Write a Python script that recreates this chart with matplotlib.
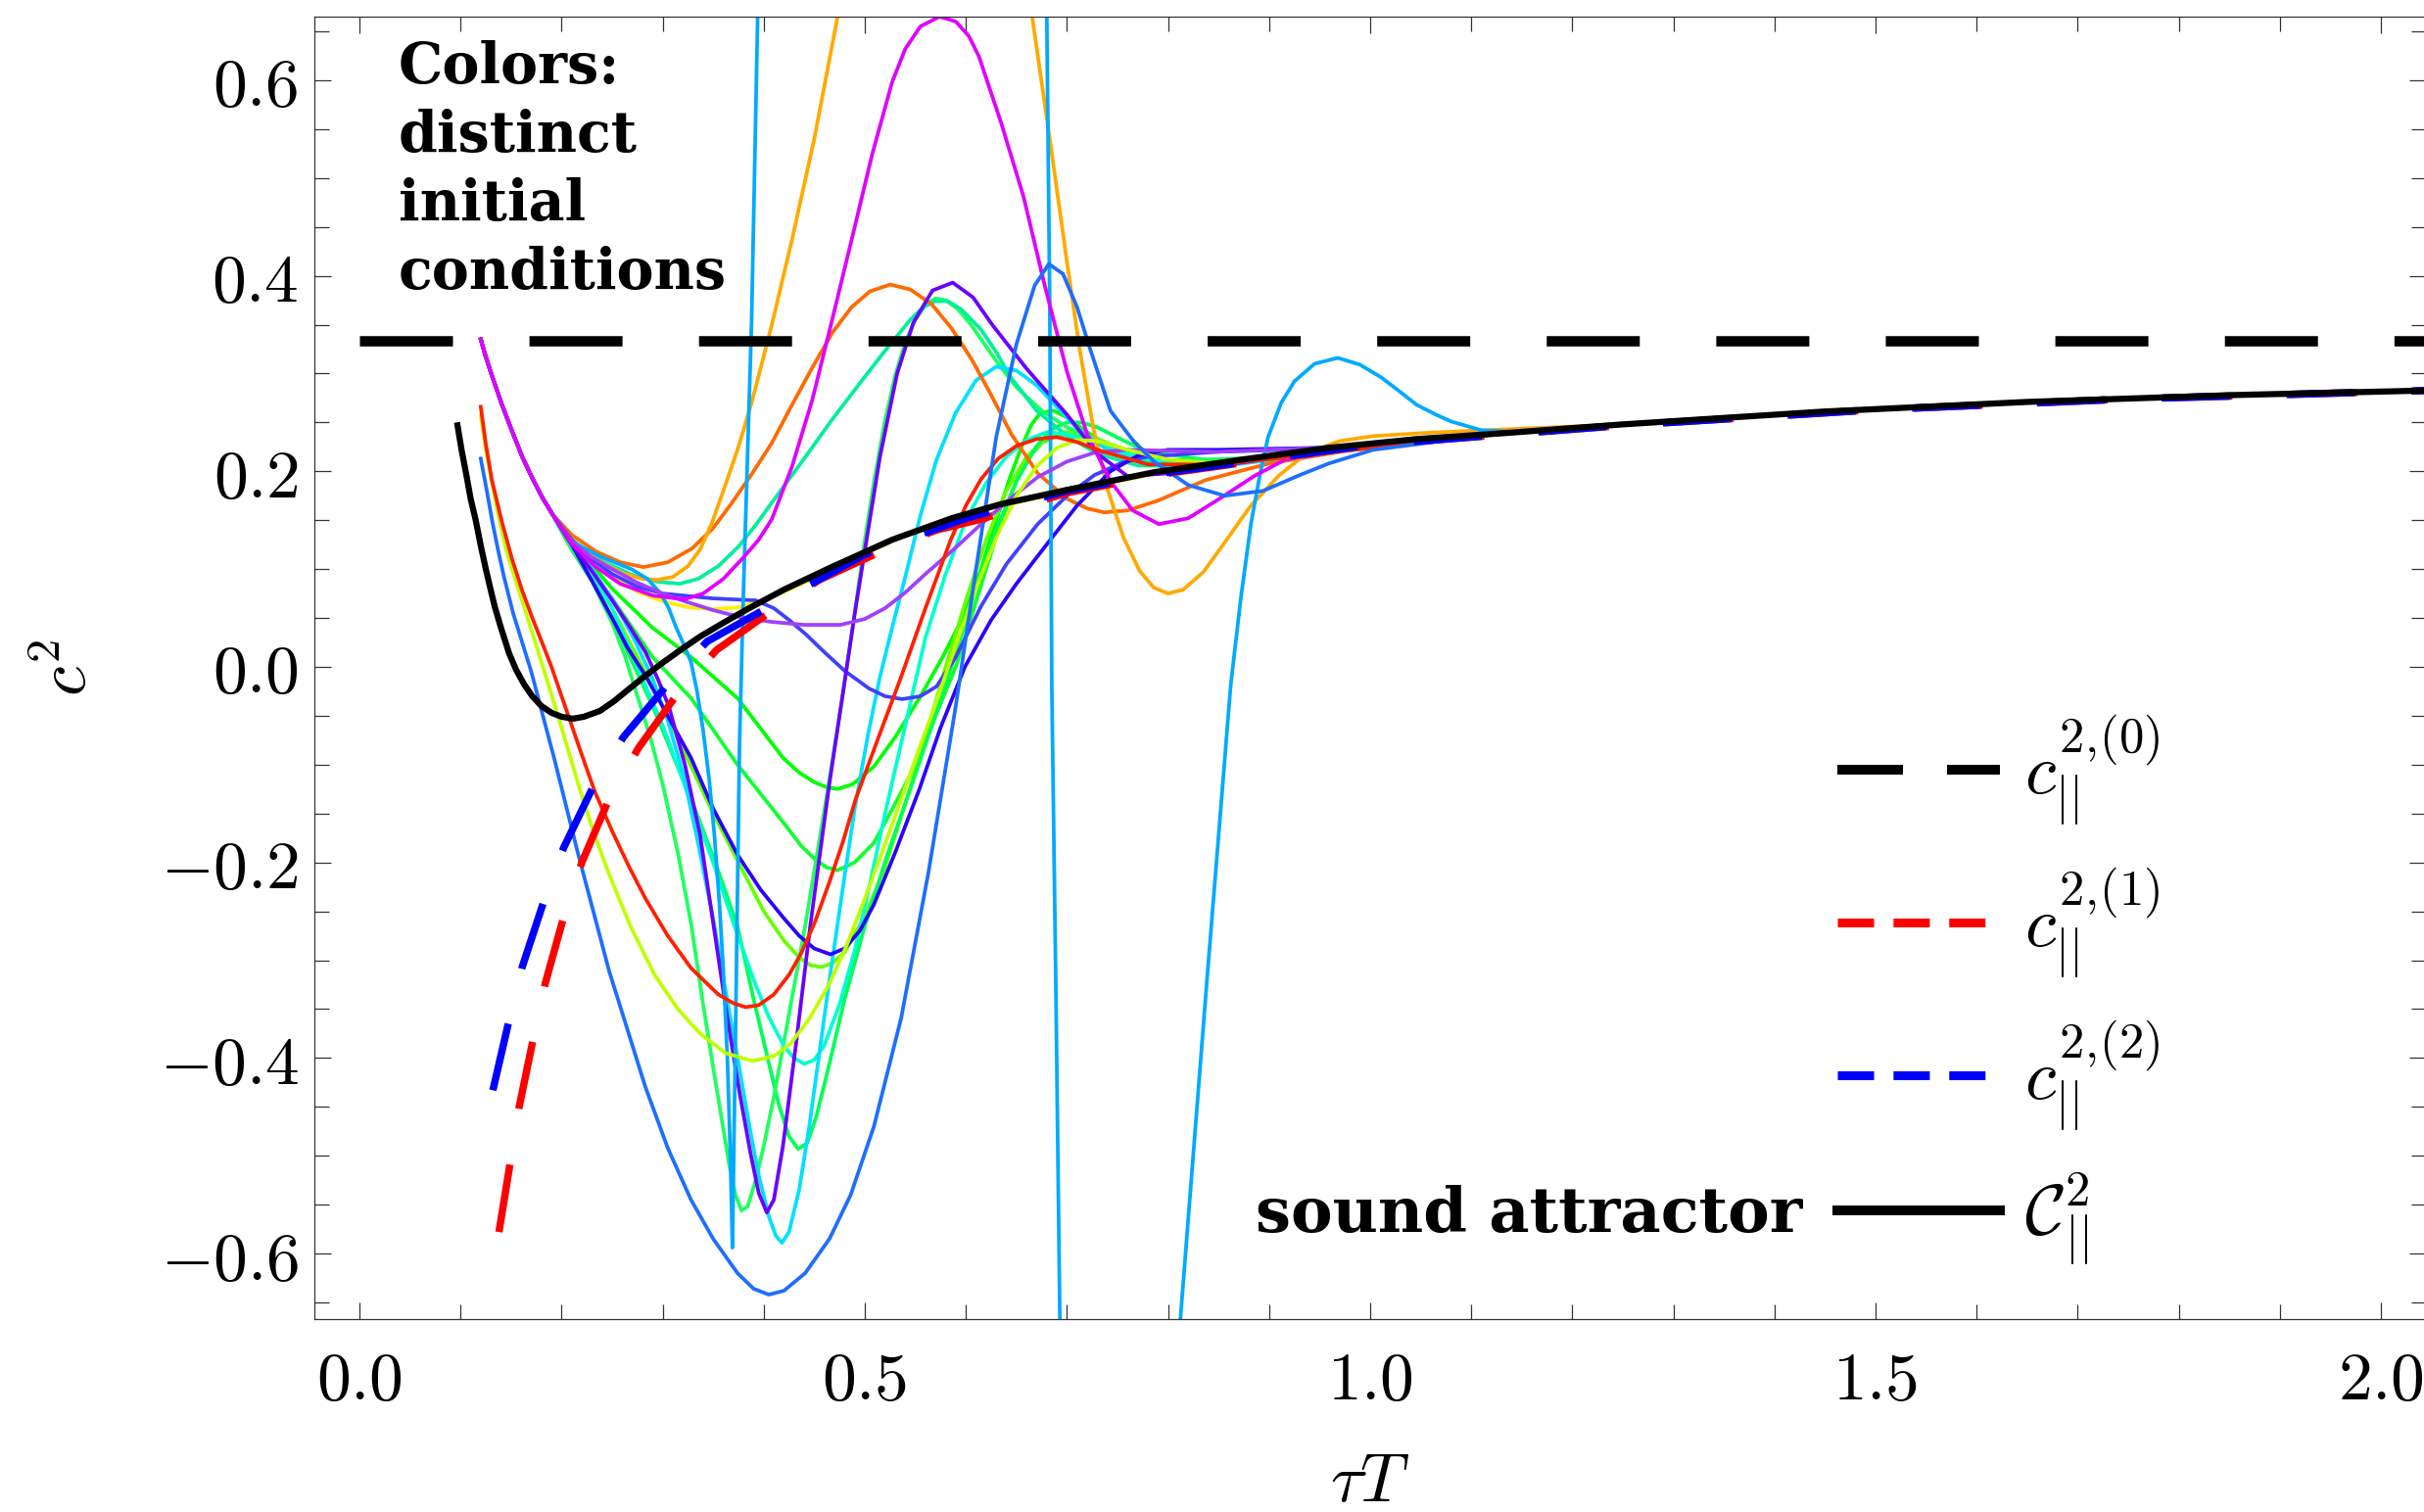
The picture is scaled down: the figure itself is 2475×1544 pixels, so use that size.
import numpy as np
import matplotlib
matplotlib.use('Agg')
import matplotlib.pyplot as plt
from matplotlib.lines import Line2D
from matplotlib.ticker import MultipleLocator, FuncFormatter

plt.rcParams['mathtext.fontset'] = 'cm'

# ---- values: (tau T, c^2) ----
c2_ideal = 1.0 / 3.0   # c_||^{2,(0)}

attractor_x = [0.097, 0.101, 0.106, 0.110, 0.115, 0.120, 0.125, 0.130, 0.134, 0.140, 0.148, 0.155,
               0.163, 0.171, 0.180, 0.190, 0.200, 0.211, 0.222, 0.238, 0.252, 0.265, 0.283, 0.301,
               0.320, 0.337, 0.360, 0.382, 0.420, 0.467, 0.527, 0.586, 0.633, 0.700, 0.786, 0.873,
               0.959, 1.046, 1.132, 1.250, 1.447, 1.651, 1.855, 2.060]
attractor_y = [0.247, 0.222, 0.195, 0.172, 0.150, 0.124, 0.100, 0.078, 0.061, 0.040, 0.014, -0.003,
               -0.018, -0.030, -0.040, -0.047, -0.051, -0.053, -0.051, -0.045, -0.035, -0.024, -0.009, 0.005,
               0.019, 0.031, 0.045, 0.058, 0.079, 0.102, 0.130, 0.152, 0.166, 0.181, 0.199, 0.212,
               0.224, 0.233, 0.239, 0.248, 0.261, 0.271, 0.278, 0.283]

hydro1_x = [0.138, 0.149, 0.158, 0.172, 0.184, 0.202, 0.220, 0.247, 0.276, 0.315, 0.353, 0.410,
            0.455, 0.518, 0.571, 0.615, 0.700, 0.800, 1.000, 1.250, 1.500, 1.750, 2.060]
hydro1_y = [-0.578, -0.508, -0.450, -0.380, -0.323, -0.256, -0.200, -0.135, -0.083, -0.027, 0.017, 0.059,
            0.089, 0.119, 0.140, 0.151, 0.178, 0.198, 0.227, 0.247, 0.263, 0.274, 0.283]

hydro2_x = [0.132, 0.147, 0.161, 0.182, 0.202, 0.231, 0.261, 0.308, 0.344, 0.410, 0.500, 0.600,
            0.700, 0.800, 1.000, 1.250, 1.500, 1.750, 2.060]
hydro2_y = [-0.433, -0.366, -0.307, -0.241, -0.185, -0.123, -0.072, -0.014, 0.026, 0.064, 0.115, 0.152,
            0.180, 0.199, 0.227, 0.247, 0.263, 0.274, 0.283]

# common start of the trajectories that begin at c^2 = 1/3
bundle_head = [(0.120, 0.335), (0.125, 0.317), (0.131, 0.298), (0.141, 0.268), (0.151, 0.241),
               (0.161, 0.215), (0.171, 0.193), (0.181, 0.173), (0.191, 0.156)]

magenta = [(0.210, 0.126), (0.234, 0.102), (0.258, 0.085), (0.290, 0.073), (0.321, 0.069), (0.340, 0.075),
           (0.360, 0.090), (0.380, 0.112), (0.395, 0.130), (0.408, 0.151), (0.428, 0.205), (0.448, 0.273),
           (0.467, 0.352), (0.487, 0.437), (0.507, 0.523), (0.527, 0.598), (0.540, 0.632), (0.555, 0.655),
           (0.574, 0.665), (0.590, 0.660), (0.603, 0.645), (0.613, 0.624), (0.635, 0.556), (0.657, 0.481),
           (0.678, 0.390), (0.700, 0.302), (0.720, 0.238), (0.743, 0.190), (0.765, 0.160), (0.791, 0.146),
           (0.820, 0.152), (0.851, 0.172), (0.885, 0.195), (0.916, 0.212), (1.000, 0.226)]
dark_orange = [(0.210, 0.135), (0.234, 0.118), (0.258, 0.107), (0.281, 0.102), (0.305, 0.107), (0.329, 0.121),
               (0.350, 0.142), (0.368, 0.167), (0.388, 0.197), (0.408, 0.229), (0.428, 0.268), (0.448, 0.306),
               (0.468, 0.342), (0.487, 0.368), (0.505, 0.384), (0.525, 0.391), (0.545, 0.386), (0.566, 0.371),
               (0.586, 0.346), (0.606, 0.314), (0.625, 0.278), (0.645, 0.238), (0.671, 0.198), (0.700, 0.172),
               (0.720, 0.162), (0.737, 0.158), (0.760, 0.160), (0.790, 0.170), (0.837, 0.191), (0.900, 0.208),
               (1.000, 0.225)]
amber = [(0.210, 0.130), (0.234, 0.110), (0.260, 0.096), (0.280, 0.090), (0.295, 0.089), (0.310, 0.092),
         (0.325, 0.103), (0.337, 0.120), (0.349, 0.148), (0.360, 0.180), (0.375, 0.225), (0.388, 0.270),
         (0.408, 0.350), (0.428, 0.437), (0.450, 0.540), (0.474, 0.670), (0.570, 1.600), (0.665, 0.669),
         (0.683, 0.540), (0.700, 0.414), (0.713, 0.322), (0.726, 0.245), (0.740, 0.182), (0.756, 0.132),
         (0.772, 0.098), (0.786, 0.081), (0.800, 0.075), (0.815, 0.079), (0.835, 0.097), (0.858, 0.130),
         (0.882, 0.165), (0.910, 0.196), (0.938, 0.219), (0.970, 0.231), (1.003, 0.236), (1.050, 0.239),
         (1.090, 0.241)]
mint = [(0.210, 0.130), (0.240, 0.108), (0.270, 0.094), (0.295, 0.087), (0.317, 0.085), (0.335, 0.090),
        (0.355, 0.103), (0.375, 0.123), (0.392, 0.145), (0.408, 0.168), (0.440, 0.213), (0.467, 0.252),
        (0.495, 0.290), (0.519, 0.322), (0.545, 0.355), (0.558, 0.368), (0.570, 0.374), (0.582, 0.374),
        (0.595, 0.366), (0.615, 0.345), (0.630, 0.322), (0.643, 0.298), (0.670, 0.262), (0.699, 0.237),
        (0.730, 0.218), (0.770, 0.206), (0.830, 0.205), (0.900, 0.213), (1.000, 0.224)]
light_blue = [(0.210, 0.128), (0.240, 0.112), (0.269, 0.100), (0.285, 0.090), (0.298, 0.075), (0.306, 0.060),
              (0.313, 0.041), (0.320, 0.025), (0.328, 0.005), (0.334, -0.025), (0.340, -0.065),
              (0.346, -0.115), (0.351, -0.170), (0.356, -0.240), (0.360, -0.310), (0.364, -0.400),
              (0.367, -0.500), (0.369, -0.594), (0.372, -0.380), (0.376, -0.080), (0.380, 0.080),
              (0.388, 0.355), (0.394, 0.667), (0.540, 2.000), (0.680, 0.669), (0.683, 0.369),
              (0.685, -0.019), (0.689, -0.327), (0.693, -0.670), (0.750, -2.000), (0.812, -0.670),
              (0.838, -0.327), (0.862, -0.019), (0.872, 0.070), (0.882, 0.146), (0.891, 0.197),
              (0.899, 0.235), (0.912, 0.270), (0.925, 0.292), (0.945, 0.310), (0.968, 0.316),
              (0.990, 0.309), (1.011, 0.296), (1.030, 0.281), (1.046, 0.268), (1.065, 0.258),
              (1.080, 0.251), (1.110, 0.242), (1.150, 0.240)]
cyan = [(0.210, 0.125), (0.230, 0.100), (0.250, 0.070), (0.270, 0.032), (0.290, -0.012), (0.305, -0.055),
        (0.320, -0.108), (0.335, -0.180), (0.350, -0.258), (0.362, -0.330), (0.375, -0.405), (0.385, -0.465),
        (0.395, -0.520), (0.405, -0.562), (0.412, -0.582), (0.418, -0.589), (0.425, -0.578), (0.435, -0.535),
        (0.445, -0.470), (0.455, -0.395), (0.465, -0.320), (0.478, -0.228), (0.490, -0.145), (0.503, -0.070),
        (0.515, -0.010), (0.527, 0.040), (0.540, 0.092), (0.555, 0.155), (0.571, 0.212), (0.590, 0.260),
        (0.610, 0.293), (0.630, 0.307), (0.650, 0.303), (0.670, 0.288), (0.690, 0.266), (0.710, 0.244),
        (0.740, 0.222), (0.780, 0.207), (0.850, 0.205), (0.950, 0.218), (1.050, 0.230)]
turquoise = [(0.210, 0.125), (0.230, 0.095), (0.250, 0.060), (0.275, 0.000), (0.300, -0.060), (0.325, -0.130),
             (0.350, -0.200), (0.370, -0.262), (0.390, -0.320), (0.405, -0.358), (0.420, -0.388),
             (0.430, -0.400), (0.440, -0.406), (0.450, -0.402), (0.460, -0.387), (0.475, -0.345),
             (0.490, -0.290), (0.505, -0.222), (0.520, -0.150), (0.540, -0.060), (0.560, 0.030),
             (0.580, 0.095), (0.600, 0.150), (0.620, 0.188), (0.640, 0.215), (0.660, 0.232), (0.680, 0.240),
             (0.700, 0.238), (0.720, 0.232), (0.750, 0.221), (0.780, 0.212), (0.850, 0.208), (0.950, 0.218),
             (1.050, 0.230)]
green_deep = [(0.210, 0.120), (0.230, 0.088), (0.250, 0.045), (0.263, 0.010), (0.275, -0.030), (0.288, -0.073),
              (0.300, -0.120), (0.315, -0.190), (0.328, -0.262), (0.340, -0.345), (0.350, -0.410),
              (0.358, -0.460), (0.366, -0.510), (0.372, -0.540), (0.378, -0.556), (0.384, -0.552),
              (0.392, -0.525), (0.400, -0.490), (0.410, -0.440), (0.425, -0.355), (0.441, -0.265),
              (0.453, -0.190), (0.465, -0.115), (0.478, -0.030), (0.490, 0.055), (0.500, 0.130),
              (0.510, 0.195), (0.520, 0.252), (0.530, 0.298), (0.540, 0.332), (0.550, 0.355), (0.560, 0.370),
              (0.570, 0.377), (0.580, 0.375), (0.592, 0.366), (0.605, 0.350), (0.615, 0.335), (0.632, 0.310),
              (0.650, 0.286), (0.675, 0.262), (0.700, 0.245), (0.750, 0.222), (0.800, 0.211), (0.900, 0.214),
              (1.000, 0.224)]
violet = [(0.210, 0.125), (0.230, 0.098), (0.250, 0.068), (0.268, 0.040), (0.283, 0.015), (0.295, -0.012),
          (0.306, -0.040), (0.322, -0.100), (0.337, -0.172), (0.350, -0.262), (0.364, -0.359), (0.376, -0.435),
          (0.387, -0.498), (0.395, -0.538), (0.403, -0.558), (0.410, -0.545), (0.419, -0.490), (0.432, -0.385),
          (0.446, -0.265), (0.465, -0.119), (0.491, 0.061), (0.515, 0.215), (0.532, 0.300), (0.548, 0.352),
          (0.567, 0.385), (0.587, 0.393), (0.607, 0.378), (0.626, 0.350), (0.660, 0.305), (0.700, 0.258),
          (0.730, 0.218), (0.760, 0.195), (0.800, 0.198), (0.900, 0.213), (1.000, 0.224)]
dark_blue = [(0.210, 0.125), (0.230, 0.088), (0.250, 0.050), (0.265, 0.020), (0.283, -0.009), (0.305, -0.050),
             (0.328, -0.093), (0.350, -0.145), (0.374, -0.192), (0.397, -0.228), (0.419, -0.256),
             (0.435, -0.275), (0.450, -0.288), (0.466, -0.294), (0.480, -0.288), (0.495, -0.270),
             (0.509, -0.243), (0.530, -0.190), (0.554, -0.125), (0.575, -0.062), (0.599, 0.000),
             (0.625, 0.048), (0.650, 0.085), (0.682, 0.128), (0.710, 0.165), (0.743, 0.200), (0.770, 0.216),
             (0.800, 0.222), (0.850, 0.222), (0.950, 0.224), (1.050, 0.232)]
bluish = [(0.210, 0.130), (0.230, 0.110), (0.250, 0.095), (0.275, 0.082), (0.300, 0.075), (0.350, 0.070),
          (0.392, 0.068), (0.410, 0.060), (0.425, 0.048), (0.442, 0.033), (0.459, 0.016), (0.480, -0.004),
          (0.504, -0.022), (0.520, -0.030), (0.537, -0.033), (0.555, -0.030), (0.571, -0.020), (0.590, 0.010),
          (0.615, 0.062), (0.640, 0.105), (0.671, 0.146), (0.700, 0.175), (0.727, 0.196), (0.755, 0.209),
          (0.780, 0.215), (0.850, 0.220), (0.950, 0.223), (1.050, 0.232)]
purple = [(0.210, 0.128), (0.230, 0.112), (0.250, 0.100), (0.275, 0.086), (0.300, 0.075), (0.325, 0.066),
          (0.350, 0.058), (0.380, 0.050), (0.408, 0.046), (0.440, 0.043), (0.476, 0.043), (0.500, 0.049),
          (0.520, 0.060), (0.540, 0.076), (0.560, 0.095), (0.590, 0.122), (0.615, 0.146), (0.645, 0.173),
          (0.671, 0.194), (0.700, 0.210), (0.727, 0.219), (0.760, 0.222), (0.800, 0.221), (0.850, 0.220),
          (0.950, 0.224), (1.050, 0.232)]
green_a = [(0.210, 0.128), (0.250, 0.080), (0.290, 0.040), (0.328, 0.010), (0.374, -0.032), (0.419, -0.093),
           (0.435, -0.108), (0.450, -0.118), (0.462, -0.123), (0.473, -0.125), (0.488, -0.120), (0.509, -0.102),
           (0.530, -0.072), (0.554, -0.032), (0.577, 0.010), (0.599, 0.055), (0.615, 0.100), (0.630, 0.150),
           (0.643, 0.192), (0.655, 0.225), (0.665, 0.248), (0.674, 0.260), (0.687, 0.262), (0.700, 0.255),
           (0.720, 0.240), (0.740, 0.227), (0.770, 0.213), (0.800, 0.207), (0.900, 0.213), (1.000, 0.224)]
green_b = [(0.210, 0.122), (0.250, 0.070), (0.290, 0.010), (0.328, -0.032), (0.374, -0.100), (0.420, -0.160),
           (0.437, -0.183), (0.450, -0.196), (0.462, -0.205), (0.473, -0.208), (0.490, -0.200), (0.509, -0.180),
           (0.530, -0.140), (0.554, -0.093), (0.572, -0.045), (0.590, 0.000), (0.605, 0.050), (0.620, 0.100),
           (0.635, 0.150), (0.650, 0.190), (0.663, 0.215), (0.675, 0.229), (0.688, 0.236), (0.700, 0.238),
           (0.715, 0.235), (0.730, 0.228), (0.780, 0.210), (0.900, 0.213), (1.000, 0.224)]
green_c = [(0.210, 0.120), (0.250, 0.060), (0.300, -0.040), (0.350, -0.150), (0.400, -0.250), (0.420, -0.280),
           (0.435, -0.297), (0.446, -0.305), (0.457, -0.307), (0.468, -0.303), (0.480, -0.292), (0.500, -0.255),
           (0.520, -0.205), (0.540, -0.140), (0.560, -0.072), (0.580, 0.000), (0.600, 0.068), (0.620, 0.130),
           (0.640, 0.180), (0.660, 0.215), (0.680, 0.234), (0.695, 0.240), (0.710, 0.240), (0.730, 0.233),
           (0.750, 0.225), (0.800, 0.210), (0.900, 0.213), (1.000, 0.224)]
green_d = [(0.210, 0.120), (0.230, 0.088), (0.250, 0.050), (0.270, 0.005), (0.290, -0.040), (0.310, -0.090),
           (0.330, -0.140), (0.352, -0.200), (0.374, -0.265), (0.390, -0.340), (0.405, -0.405), (0.415, -0.448),
           (0.425, -0.480), (0.434, -0.493), (0.443, -0.487), (0.452, -0.460), (0.464, -0.410), (0.480, -0.340),
           (0.500, -0.265), (0.522, -0.193), (0.545, -0.125), (0.568, -0.055), (0.590, 0.014), (0.610, 0.080),
           (0.630, 0.140), (0.650, 0.190), (0.670, 0.226), (0.685, 0.243), (0.700, 0.250), (0.715, 0.250),
           (0.730, 0.245), (0.755, 0.232), (0.780, 0.220), (0.850, 0.210), (0.950, 0.218), (1.050, 0.230)]
yellow = [(0.210, 0.126), (0.230, 0.107), (0.250, 0.092), (0.275, 0.077), (0.300, 0.067), (0.325, 0.061),
          (0.350, 0.059), (0.375, 0.061), (0.400, 0.068), (0.425, 0.079), (0.450, 0.091), (0.500, 0.116),
          (0.550, 0.139), (0.600, 0.156), (0.650, 0.168), (0.700, 0.180), (0.800, 0.200), (0.900, 0.215),
          (1.000, 0.227)]

red = [(0.120, 0.266), (0.125, 0.228), (0.131, 0.191), (0.141, 0.148), (0.151, 0.110), (0.161, 0.078),
       (0.171, 0.050), (0.181, 0.024), (0.190, 0.000), (0.206, -0.048), (0.220, -0.090), (0.233, -0.128),
       (0.250, -0.168), (0.267, -0.205), (0.283, -0.237), (0.305, -0.275), (0.328, -0.308), (0.355, -0.335),
       (0.370, -0.344), (0.382, -0.348), (0.395, -0.346), (0.410, -0.335), (0.425, -0.315), (0.437, -0.293),
       (0.451, -0.260), (0.465, -0.220), (0.478, -0.180), (0.491, -0.135), (0.515, -0.068), (0.536, -0.010),
       (0.560, 0.060), (0.585, 0.130), (0.600, 0.165), (0.615, 0.192), (0.632, 0.213), (0.650, 0.226),
       (0.670, 0.233), (0.690, 0.235), (0.710, 0.230), (0.730, 0.222), (0.780, 0.207), (0.850, 0.207),
       (0.950, 0.218), (1.050, 0.230)]
yellow_green = [(0.120, 0.257), (0.125, 0.222), (0.131, 0.188), (0.138, 0.152), (0.145, 0.120), (0.154, 0.090),
                (0.163, 0.061), (0.180, 0.005), (0.195, -0.045), (0.205, -0.080), (0.218, -0.125),
                (0.232, -0.170), (0.247, -0.212), (0.268, -0.265), (0.292, -0.315), (0.315, -0.350),
                (0.337, -0.375), (0.362, -0.395), (0.389, -0.403), (0.410, -0.398), (0.427, -0.385),
                (0.445, -0.360), (0.464, -0.326), (0.482, -0.285), (0.500, -0.237), (0.518, -0.187),
                (0.536, -0.135), (0.554, -0.083), (0.572, -0.032), (0.590, 0.022), (0.610, 0.080),
                (0.630, 0.132), (0.650, 0.175), (0.670, 0.205), (0.690, 0.224), (0.710, 0.232), (0.730, 0.231),
                (0.760, 0.222), (0.800, 0.212), (0.850, 0.208), (0.950, 0.218), (1.050, 0.230)]
blue = [(0.120, 0.213), (0.126, 0.180), (0.131, 0.151), (0.137, 0.120), (0.143, 0.092), (0.152, 0.055),
        (0.170, -0.005), (0.193, -0.095), (0.216, -0.190), (0.247, -0.311), (0.283, -0.430), (0.305, -0.492),
        (0.328, -0.545), (0.350, -0.585), (0.374, -0.620), (0.390, -0.636), (0.405, -0.642), (0.420, -0.638),
        (0.441, -0.620), (0.465, -0.585), (0.486, -0.540), (0.509, -0.470), (0.536, -0.359), (0.563, -0.210),
        (0.590, -0.040), (0.610, 0.100), (0.630, 0.235), (0.650, 0.330), (0.668, 0.390), (0.682, 0.412),
        (0.696, 0.402), (0.710, 0.368), (0.722, 0.328), (0.743, 0.262), (0.765, 0.232), (0.786, 0.210),
        (0.820, 0.186), (0.856, 0.175), (0.894, 0.180), (0.930, 0.196), (0.959, 0.208), (1.003, 0.222)]

# drawing order: later entries end up on top (magenta dominates the common start)
top_start = [
    (yellow, '#ffee00'), (green_a, '#00ff00'), (green_b, '#10ff30'), (green_c, '#66ff00'),
    (green_d, '#00ff55'), (green_deep, '#20ff60'), (mint, '#00f09a'), (turquoise, '#00ffd0'),
    (cyan, '#00e0ff'), (dark_orange, '#ff6a00'), (amber, '#ffaa00'), (bluish, '#4040ff'),
    (dark_blue, '#2a00ff'), (violet, '#6a00ff'), (light_blue, '#00aaff'), (purple, '#a040ff'),
    (magenta, '#e000ff'),
]
low_start = [(yellow_green, '#c0ff00'), (red, '#ff2000'), (blue, '#1e6eff')]


def with_tail(pts):
    # every trajectory ends on the attractor
    xs = [p[0] for p in pts]
    ys = [p[1] for p in pts]
    for ax_, ay_ in zip(attractor_x, attractor_y):
        if ax_ > xs[-1] + 0.05:
            xs.append(ax_)
            ys.append(ay_)
    return xs, ys


fig = plt.figure(figsize=(24.75, 15.44), dpi=100)
ax = fig.add_axes([0.1297, 0.1276, 0.8711, 0.8614])

for pts, col in top_start:
    xs, ys = with_tail(bundle_head + pts)
    ax.plot(xs, ys, color=col, lw=2.7, zorder=2, solid_joinstyle='round')
for pts, col in low_start:
    xs, ys = with_tail(pts)
    ax.plot(xs, ys, color=col, lw=2.7, zorder=2, solid_joinstyle='round')

ax.plot(hydro1_x, hydro1_y, color='#ff0000', lw=5.4, dashes=(9.3, 7.7), zorder=3)
ax.plot(hydro2_x, hydro2_y, color='#0000ff', lw=5.4, dashes=(9.3, 7.7), zorder=3)
ax.plot(attractor_x, attractor_y, color='black', lw=4.5, zorder=4, solid_joinstyle='round')
ax.plot([0.0, 2.1], [c2_ideal, c2_ideal], color='black', lw=7.6, dashes=(9.0, 7.4),
        dash_capstyle='butt', zorder=5)

ax.set_xlim(-0.0446, 2.0446)
ax.set_ylim(-0.667, 0.665)

ax.xaxis.set_major_locator(MultipleLocator(0.5))
ax.xaxis.set_minor_locator(MultipleLocator(0.1))
ax.yaxis.set_major_locator(MultipleLocator(0.2))
ax.yaxis.set_minor_locator(MultipleLocator(0.05))


def tick_fmt(v, pos):
    s = '%.1f' % v
    if s == '-0.0':
        s = '0.0'
    return '$%s$' % s


ax.xaxis.set_major_formatter(FuncFormatter(tick_fmt))
ax.yaxis.set_major_formatter(FuncFormatter(tick_fmt))
ax.tick_params(which='both', direction='in', top=True, right=True, width=0.9, color='#333333')
ax.tick_params(which='major', length=12.5)
ax.tick_params(which='minor', length=11)
ax.tick_params(axis='x', which='major', labelsize=50, pad=21)
ax.tick_params(axis='y', which='major', labelsize=50, pad=11.5)
for sp in ax.spines.values():
    sp.set_linewidth(0.9)
    sp.set_color('#333333')

ax.set_xlabel(r'$\tau T$', fontsize=50)
ax.xaxis.set_label_coords(0.5, -0.100)
ax.set_ylabel(r'$c^2$', fontsize=50)
ax.yaxis.set_label_coords(-0.1016, 0.5)

ax.text(0.0399, 0.982, 'Colors:\ndistinct\ninitial\nconditions', transform=ax.transAxes,
        family='DejaVu Serif', weight='bold', fontsize=41, ha='left', va='top', linespacing=1.32)
ax.text(0.4457, 0.0669, 'sound attractor', transform=ax.transAxes,
        family='DejaVu Serif', weight='bold', fontsize=46, ha='left', va='baseline')

handles = [
    Line2D([], [], color='black', lw=7.2, dashes=(6.7, 4.5)),
    Line2D([], [], color='#ff0000', lw=6.5, dashes=(4.1, 2.2)),
    Line2D([], [], color='#0000ff', lw=6.5, dashes=(4.1, 2.2)),
    Line2D([], [], color='black', lw=7.2),
]
labels = [r'$c_{||}^{2,\!(0)}$', r'$c_{||}^{2,\!(1)}$', r'$c_{||}^{2,\!(2)}$', r'$\mathcal{C}_{||}^{2}$']
ax.legend(handles, labels, loc='upper left', bbox_to_anchor=(0.7212, 0.4657), frameon=False,
          fontsize=52, handlelength=2.3, handletextpad=0.35, labelspacing=0.535,
          borderpad=0, borderaxespad=0)

fig.savefig('out.png', dpi=100)
